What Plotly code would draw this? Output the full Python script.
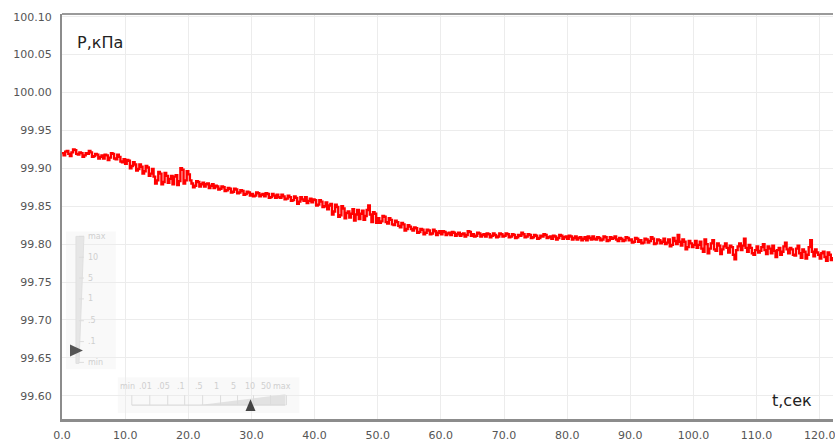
import plotly.graph_objects as go

# Pressure record, kPa. Samples on the half-second grid (0, 0.5, ... 122 s)
pressure_on_half_s = [
    99.920, 99.922, 99.919, 99.921, 99.924, 99.918, 99.920, 99.917, 99.919, 99.921,
    99.916, 99.918, 99.915, 99.913, 99.917, 99.914, 99.919, 99.912, 99.915, 99.908,
    99.906, 99.910, 99.903, 99.905, 99.899, 99.902, 99.896, 99.901, 99.893, 99.889,
    99.884, 99.893, 99.882, 99.890, 99.886, 99.879, 99.891, 99.883, 99.898, 99.884,
    99.892, 99.880, 99.877, 99.882, 99.879, 99.876, 99.880, 99.877, 99.874, 99.876,
    99.873, 99.875, 99.871, 99.873, 99.869, 99.872, 99.868, 99.870, 99.866, 99.868,
    99.866, 99.864, 99.867, 99.865, 99.863, 99.866, 99.862, 99.864, 99.865, 99.861,
    99.863, 99.860, 99.862, 99.858, 99.861, 99.856, 99.859, 99.862, 99.857, 99.855,
    99.858, 99.852, 99.856, 99.850, 99.846, 99.853, 99.843, 99.849, 99.838, 99.847,
    99.841, 99.835, 99.846, 99.839, 99.833, 99.844, 99.837, 99.851, 99.829, 99.840,
    99.834, 99.830, 99.836, 99.827, 99.832, 99.825, 99.829, 99.822, 99.826, 99.820,
    99.823, 99.818, 99.821, 99.816, 99.819, 99.815, 99.818, 99.814, 99.817, 99.815,
    99.813, 99.816, 99.814, 99.812, 99.815, 99.813, 99.811, 99.814, 99.812, 99.816,
    99.813, 99.811, 99.814, 99.812, 99.810, 99.813, 99.811, 99.812, 99.810, 99.813,
    99.811, 99.813, 99.810, 99.812, 99.809, 99.811, 99.813, 99.810, 99.812, 99.809,
    99.811, 99.808, 99.810, 99.812, 99.809, 99.807, 99.810, 99.808, 99.811, 99.809,
    99.807, 99.810, 99.808, 99.806, 99.809, 99.807, 99.805, 99.808, 99.810, 99.806,
    99.808, 99.806, 99.809, 99.805, 99.807, 99.810, 99.804, 99.807, 99.805, 99.808,
    99.806, 99.803, 99.807, 99.805, 99.802, 99.806, 99.804, 99.807, 99.801, 99.805,
    99.803, 99.800, 99.806, 99.799, 99.804, 99.812, 99.798, 99.803, 99.796, 99.801,
    99.799, 99.795, 99.803, 99.790, 99.800, 99.794, 99.805, 99.791, 99.798, 99.793,
    99.801, 99.789, 99.796, 99.780, 99.797, 99.792, 99.807, 99.790, 99.795, 99.786,
    99.797, 99.791, 99.800, 99.787, 99.794, 99.798, 99.783, 99.795, 99.790, 99.802,
    99.788, 99.793, 99.785, 99.798, 99.782, 99.790, 99.786, 99.805, 99.784, 99.789,
    99.781, 99.790, 99.778, 99.786, 99.783,
]
# Samples taken between them (0.25, 0.75, ... 121.75 s)
pressure_between = [
    99.917, 99.923, 99.916, 99.925, 99.919, 99.921, 99.915, 99.920, 99.923, 99.915,
    99.919, 99.913, 99.917, 99.918, 99.911, 99.920, 99.913, 99.918, 99.909, 99.912,
    99.911, 99.900, 99.908, 99.897, 99.905, 99.893, 99.903, 99.890, 99.899, 99.880,
    99.895, 99.879, 99.894, 99.881, 99.890, 99.889, 99.878, 99.900, 99.880, 99.896,
    99.884, 99.875, 99.883, 99.876, 99.881, 99.879, 99.874, 99.879, 99.877, 99.872,
    99.876, 99.870, 99.874, 99.868, 99.873, 99.867, 99.871, 99.865, 99.869, 99.864,
    99.863, 99.868, 99.863, 99.866, 99.867, 99.861, 99.866, 99.861, 99.862, 99.865,
    99.859, 99.864, 99.857, 99.863, 99.853, 99.862, 99.857, 99.854, 99.860, 99.859,
    99.851, 99.858, 99.849, 99.855, 99.851, 99.839, 99.852, 99.836, 99.850, 99.834,
    99.843, 99.840, 99.831, 99.845, 99.840, 99.832, 99.845, 99.839, 99.842, 99.828,
    99.828, 99.837, 99.829, 99.834, 99.826, 99.831, 99.824, 99.828, 99.818, 99.825,
    99.820, 99.822, 99.815, 99.820, 99.813, 99.819, 99.813, 99.819, 99.812, 99.817,
    99.817, 99.812, 99.815, 99.816, 99.811, 99.815, 99.813, 99.810, 99.817, 99.811,
    99.810, 99.815, 99.810, 99.813, 99.814, 99.809, 99.814, 99.809, 99.814, 99.810,
    99.814, 99.809, 99.813, 99.808, 99.812, 99.815, 99.809, 99.813, 99.808, 99.812,
    99.807, 99.811, 99.813, 99.808, 99.810, 99.811, 99.806, 99.812, 99.807, 99.810,
    99.811, 99.806, 99.810, 99.808, 99.805, 99.809, 99.810, 99.806, 99.807, 99.809,
    99.805, 99.810, 99.804, 99.809, 99.808, 99.806, 99.808, 99.804, 99.809, 99.805,
    99.802, 99.808, 99.803, 99.801, 99.807, 99.802, 99.809, 99.800, 99.806, 99.801,
    99.807, 99.802, 99.797, 99.808, 99.800, 99.803, 99.806, 99.793, 99.804, 99.796,
    99.804, 99.799, 99.794, 99.806, 99.788, 99.801, 99.793, 99.801, 99.787, 99.797,
    99.795, 99.798, 99.786, 99.792, 99.801, 99.798, 99.795, 99.799, 99.788, 99.792,
    99.789, 99.796, 99.792, 99.797, 99.788, 99.791, 99.792, 99.786, 99.797, 99.793,
    99.795, 99.786, 99.794, 99.788, 99.793, 99.781, 99.796, 99.790, 99.793, 99.786,
    99.788, 99.783, 99.789, 99.779,
]
t_step = 0.25

pressure_kpa = []
for i, v in enumerate(pressure_on_half_s):
    pressure_kpa.append(v)
    if i < len(pressure_between):
        pressure_kpa.append(pressure_between[i])
time_s = [i * t_step for i in range(len(pressure_kpa))]

x_ticks = [i * 10 for i in range(13)]
y_ticks = [round(99.60 + 0.05 * i, 2) for i in range(11)]

W, H = 835, 442
L, T, B = 62, 14, 20
PW, PH = W - L, H - T - B


def px(x):
    return (x - L) / PW


def py(y):
    return (H - B - y) / PH


fig = go.Figure()
fig.add_trace(go.Scatter(
    x=time_s, y=pressure_kpa, mode="lines",
    line=dict(color="#ff0000", width=2.4, shape="hv"),
    hoverinfo="skip", showlegend=False,
))

shapes = []
annotations = []

# frame top edge
shapes.append(dict(type="line", xref="paper", yref="paper", x0=0, x1=1, y0=1, y1=1,
                   line=dict(color="#9a9a9a", width=2)))

# faint vertical zoom slider
shapes.append(dict(type="rect", xref="paper", yref="paper",
                   x0=px(66), x1=px(116), y0=py(372), y1=py(233),
                   fillcolor="rgba(238,238,238,0.35)", line=dict(width=0), layer="below"))
shapes.append(dict(type="path", xref="paper", yref="paper",
                   path=f"M {px(76)} {py(238)} L {px(84)} {py(238)} L {px(79)} {py(366)} L {px(76)} {py(366)} Z",
                   fillcolor="#e6e6e6", line=dict(color="#e0e0e0", width=1)))
v_labels = ["max", "10", "5", "1", ".5", ".1", "min"]
v_pos = [238, 259, 280, 301, 323, 344, 365]
for lab, yy in zip(v_labels, v_pos):
    shapes.append(dict(type="line", xref="paper", yref="paper",
                       x0=px(79), x1=px(84), y0=py(yy), y1=py(yy),
                       line=dict(color="#dddddd", width=1)))
    annotations.append(dict(text=lab, xref="paper", yref="paper", x=px(86), y=py(yy),
                            xanchor="left", yanchor="middle", showarrow=False,
                            font=dict(size=8, color="#cfcfcf", family="DejaVu Sans")))
shapes.append(dict(type="path", xref="paper", yref="paper",
                   path=f"M {px(70)} {py(347)} L {px(83)} {py(353)} L {px(70)} {py(359)} Z",
                   fillcolor="#555555", line=dict(width=0)))

# faint horizontal zoom slider
shapes.append(dict(type="rect", xref="paper", yref="paper",
                   x0=px(118), x1=px(300), y0=py(416), y1=py(380),
                   fillcolor="rgba(238,238,238,0.35)", line=dict(width=0), layer="below"))
shapes.append(dict(type="path", xref="paper", yref="paper",
                   path=f"M {px(200)} {py(408)} L {px(286)} {py(397)} L {px(286)} {py(408)} Z",
                   fillcolor="#e2e2e2", line=dict(width=0)))
shapes.append(dict(type="line", xref="paper", yref="paper",
                   x0=px(132), x1=px(286), y0=py(408), y1=py(408),
                   line=dict(color="#d4d4d4", width=1)))
h_labels = ["min", ".01", ".05", ".1", ".5", "1", "5", "10", "50", "max"]
h_pos = [128, 146, 164, 181, 199, 217, 234, 250, 267, 283]
for lab, xx in zip(h_labels, h_pos):
    shapes.append(dict(type="line", xref="paper", yref="paper",
                       x0=px(xx + 4), x1=px(xx + 4), y0=py(408), y1=py(398),
                       line=dict(color="#dcdcdc", width=1)))
    annotations.append(dict(text=lab, xref="paper", yref="paper", x=px(xx), y=py(389),
                            xanchor="center", yanchor="middle", showarrow=False,
                            font=dict(size=8, color="#cfcfcf", family="DejaVu Sans")))
shapes.append(dict(type="path", xref="paper", yref="paper",
                   path=f"M {px(246)} {py(414)} L {px(251)} {py(402)} L {px(256)} {py(414)} Z",
                   fillcolor="#444444", line=dict(width=0)))

# axis captions
annotations.append(dict(text="P,кПа", xref="paper", yref="paper", x=px(75), y=py(43),
                        xanchor="left", yanchor="middle", showarrow=False,
                        font=dict(size=16, color="#222222", family="DejaVu Sans")))
annotations.append(dict(text="t,сек", xref="paper", yref="paper", x=px(772), y=py(403),
                        xanchor="left", yanchor="middle", showarrow=False,
                        font=dict(size=16, color="#222222", family="DejaVu Sans")))

fig.update_layout(
    width=W, height=H,
    margin=dict(l=L, r=0, t=T, b=B),
    paper_bgcolor="white", plot_bgcolor="white",
    font=dict(family="DejaVu Sans", size=11, color="#555555"),
    shapes=shapes, annotations=annotations,
    xaxis=dict(
        range=[0, 122.1], tickvals=x_ticks, ticktext=[f"{v:.1f}" for v in x_ticks],
        showgrid=True, gridcolor="#ececec", gridwidth=1, zeroline=False,
        showline=True, linecolor="#8c8c8c", linewidth=3, ticks="",
        ticklabelstandoff=4, ticklabeloverflow="allow",
    ),
    yaxis=dict(
        range=[99.5693, 100.1035], tickvals=y_ticks, ticktext=[f"{v:.2f}" for v in y_ticks],
        showgrid=True, gridcolor="#ececec", gridwidth=1, zeroline=False,
        showline=True, linecolor="#8c8c8c", linewidth=2, ticks="",
        ticklabelstandoff=6,
    ),
)

fig.write_html("out.html")
